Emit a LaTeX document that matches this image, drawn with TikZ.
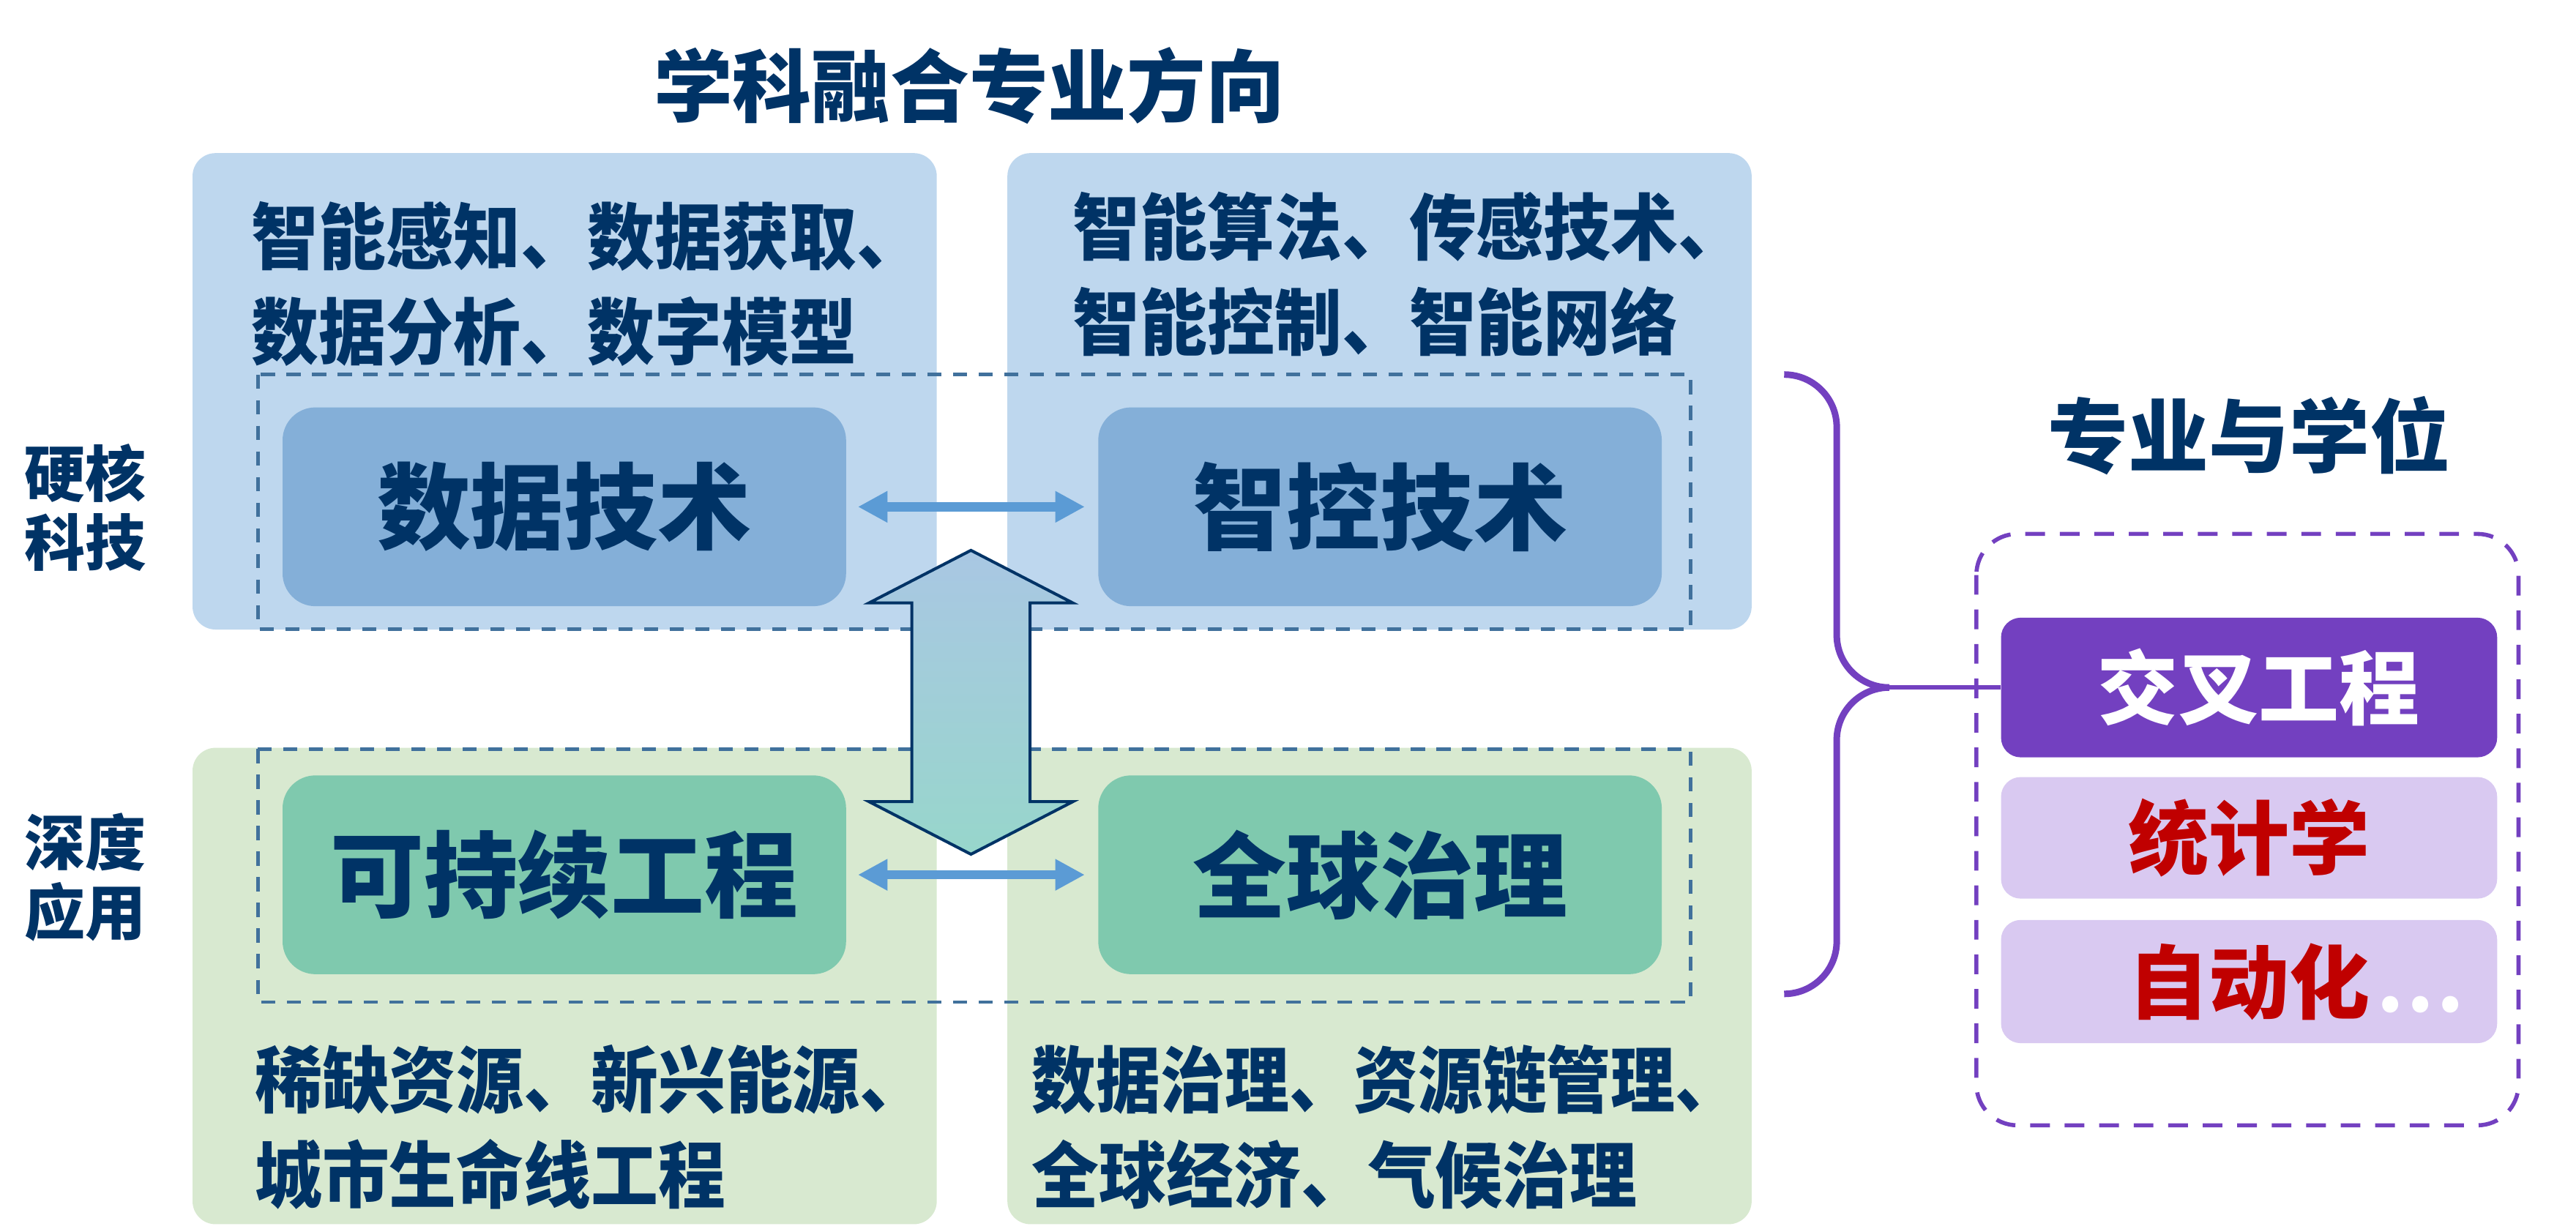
\documentclass[tikz,border=0pt]{standalone}
\usepackage{fontspec}
\setmainfont{Noto Sans CJK SC}
\newfontfamily\itemfont{Noto Sans CJK SC}[FakeStretch=0.93]
\newfontfamily\itemfontnarrow{Noto Sans CJK SC}[FakeStretch=0.89]
\usetikzlibrary{arrows.meta}
\definecolor{navy}{RGB}{0,51,102}
\definecolor{paleblue}{RGB}{190,215,238}
\definecolor{midblue}{RGB}{132,175,216}
\definecolor{palegreen}{RGB}{216,233,208}
\definecolor{midgreen}{RGB}{127,201,174}
\definecolor{dashblue}{RGB}{65,113,156}
\definecolor{arrowblue}{RGB}{91,155,213}
\definecolor{purp}{RGB}{115,64,192}
\definecolor{lav}{RGB}{217,201,241}
\definecolor{darkred}{RGB}{192,0,0}
\definecolor{shadetop}{RGB}{169,199,227}
\definecolor{shadebot}{RGB}{151,214,203}

\tikzset{
  panel/.style={rounded corners=14pt, anchor=north west, inner sep=0pt, minimum width=453pt, minimum height=290pt},
  techbox/.style={rounded corners=20pt, minimum width=343pt, minimum height=121pt, inner sep=0pt, text=navy, font=\bfseries\fontsize{57}{60}\selectfont},
  itemtext/.style={anchor=west, align=left, text=navy, inner sep=0pt, font=\itemfont\bfseries\fontsize{44}{58}\selectfont},
  rowframe/.style={draw=dashblue, line width=2pt, dash pattern=on 8.6pt off 7pt},
  linkarrow/.style={draw=arrowblue, line width=5.5pt, {Triangle[length=18pt,width=18pt]}-{Triangle[length=18pt,width=18pt]}, shorten <=7pt, shorten >=8pt},
  degbox/.style={rounded corners=12pt, minimum width=302pt, inner sep=0pt, font=\bfseries\fontsize{49}{52}\selectfont},
  sidelabel/.style={align=center, text=navy, font=\bfseries\fontsize{37}{42}\selectfont},
  heading/.style={text=navy, font=\bfseries\fontsize{48}{52}\selectfont},
  bracket/.style={draw=purp, line width=4pt, rounded corners=32pt}
}

\begin{document}
\begin{tikzpicture}[x=1pt,y=-1pt]
    \useasboundingbox (0,0) rectangle (1568,748);
    \node[heading] (title) at (590,52) {学科融合专业方向};
    \node[panel, fill=paleblue] (pa) at (117,93) {};
    \node[panel, fill=paleblue] (pb) at (613,93) {};
    \node[panel, fill=palegreen] (pc) at (117,455) {};
    \node[panel, fill=palegreen] (pd) at (613,455) {};
    \draw[rowframe] (157,228) rectangle (1029,383);
    \draw[rowframe] (157,456) rectangle (1029,610);
    \node[techbox, fill=midblue] (sj) at (343.5,308.5) {数据技术};
    \node[techbox, fill=midblue] (zk) at (840,308.5) {智控技术};
    \node[techbox, fill=midgreen] (kc) at (343.5,532.5) {可持续工程};
    \node[techbox, fill=midgreen] (qq) at (840,532.5) {全球治理};
    \draw[linkarrow] (sj.east) -- (zk.west);
    \draw[linkarrow] (kc.east) -- (qq.west);
    \draw[navy, line width=1.8pt, top color=shadetop, bottom color=shadebot]
        (591,335) -- (653,367) -- (627,367) -- (627,488) -- (653,488) -- (591,520)
        -- (529,488) -- (555,488) -- (555,367) -- (529,367) -- cycle;
    \node[sidelabel] (hk) at (52,309) {硬核\\科技};
    \node[sidelabel] (sd) at (52,534) {深度\\应用};
    \node[itemtext] (ta) at (153,173) {智能感知、数据获取、\\数据分析、数字模型};
    \node[itemtext] (tb) at (653,167) {智能算法、传感技术、\\智能控制、智能网络};
    \node[itemtext] (tc) at (155,686) {稀缺资源、新兴能源、\\城市生命线工程};
    \node[itemtext] (td) at (628,686) {{\itemfontnarrow 数据治理、资源链管理、}\\全球经济、气候治理};

    \node[heading, font=\bfseries\fontsize{49}{52}\selectfont] (zy) at (1369,265) {专业与学位};
    \draw[purp, line width=2.5pt, dash pattern=on 12pt off 9pt, rounded corners=25pt] (1203,325) rectangle (1533,685);
    \node[degbox, fill=purp, text=white, minimum height=85pt] (jc) at (1369,418.5) {\hspace*{12pt}交叉工程};
    \node[degbox, fill=lav, text=darkred, minimum height=74pt] (tj) at (1369,510) {统计学};
    \node[degbox, fill=lav, text=darkred, minimum height=75pt] (zd) at (1369,597.5) {自动化};
    \node[anchor=base west, inner sep=0pt, text=white, font=\bfseries\fontsize{46}{46}\selectfont] (dots) at (1447,616) {.\kern2pt.\kern2pt.};
    \draw[bracket] (1086,228) -- (1118,228) -- (1118,418.5) -- (1150,418.5);
    \draw[bracket] (1086,605) -- (1118,605) -- (1118,418.5) -- (1150,418.5);
    \draw[purp, line width=2.5pt] (1148,418.5) -- (jc.west);
\end{tikzpicture}
\end{document}
